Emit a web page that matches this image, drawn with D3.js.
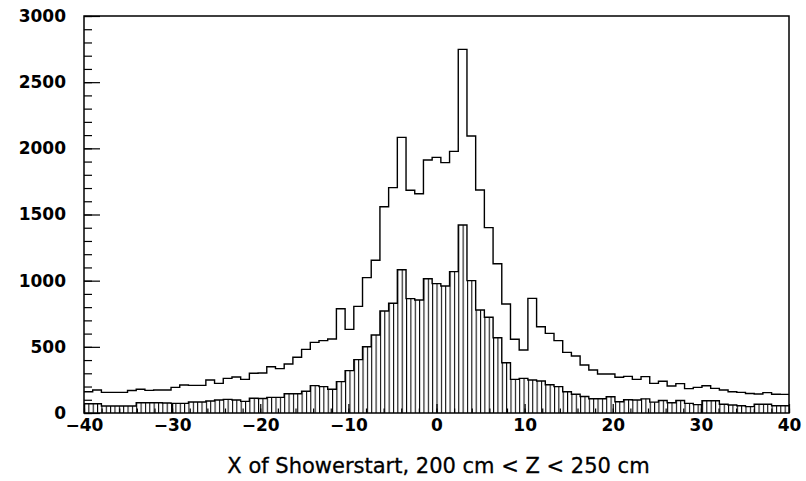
<!DOCTYPE html>
<html>
<head>
<meta charset="utf-8">
<script src="https://cdn.jsdelivr.net/npm/d3@7"></script>
<style>
  html, body { margin: 0; padding: 0; background: #fff; }
  svg { display: block; }
</style>
</head>
<body>
<svg id="chart" width="806" height="481"></svg>
<script>
// ---- data (81 bins of equal width spanning -40 .. 40) ----
const xRange = [-40, 40];
const allShowers = [
  161, 174, 156, 156, 156, 170, 179, 171, 174, 174,
  194, 212, 209, 209, 249, 224, 262, 272, 254, 300,
  302, 350, 335, 370, 421, 481, 534, 547, 559, 788,
  632, 806, 1023, 1154, 1559, 1703, 2083, 1683, 1657, 1912,
  1932, 1892, 1977, 2748, 2093, 1685, 1401, 1128, 824, 557,
  476, 866, 652, 602, 547, 458, 431, 363, 325, 295,
  295, 270, 277, 254, 275, 224, 240, 204, 222, 184,
  194, 206, 186, 174, 161, 156, 147, 144, 154, 142,
  141
];
const selectedShowers = [
  70, 70, 53, 53, 53, 53, 78, 78, 78, 76,
  73, 73, 83, 83, 91, 98, 103, 98, 88, 111,
  110, 118, 118, 146, 146, 164, 207, 199, 179, 237,
  320, 403, 501, 589, 771, 829, 1083, 864, 854, 1015,
  978, 960, 1068, 1421, 1000, 778, 723, 569, 380, 254,
  262, 249, 242, 214, 199, 161, 142, 125, 108, 108,
  123, 85, 100, 98, 107, 82, 95, 78, 95, 73,
  63, 93, 93, 66, 60, 55, 48, 66, 66, 55,
  55
];
const xMajorTicks = [-40, -30, -20, -10, 0, 10, 20, 30, 40];
const xTickLabels = ["\u221240", "\u221230", "\u221220", "\u221210", "0", "10", "20", "30", "40"];
const yMajorTicks = [0, 500, 1000, 1500, 2000, 2500, 3000];
const yTickLabels = ["0", "500", "1000", "1500", "2000", "2500", "3000"];
const xTitle = "X of Showerstart, 200 cm < Z < 250 cm";

(function () {
const svg = d3.select("#chart");
const pLeft = 84, pRight = 789, pTop = 16, pBottom = 413;
const x = d3.scaleLinear().domain(xRange).range([pLeft, pRight]);
const y = d3.scaleLinear().domain([0, 3000]).range([pBottom, pTop]);

const nBins = allShowers.length;
const binW = (xRange[1] - xRange[0]) / nBins;
const edges = d3.range(nBins + 1).map(k => xRange[0] + k * binW);

function stepPoints(vals) {
  const pts = vals.map((v, i) => [edges[i], v]);
  pts.push([edges[nBins], vals[nBins - 1]]);
  return pts;
}

const binPx = x(edges[1]) - x(edges[0]);
const defs = svg.append("defs");
const pat = defs.append("pattern")
  .attr("id", "vhatch")
  .attr("patternUnits", "userSpaceOnUse")
  .attr("x", pLeft)
  .attr("y", 0)
  .attr("width", binPx / 2)
  .attr("height", 20);
pat.append("line")
  .attr("x1", 0.5).attr("x2", 0.5)
  .attr("y1", 0).attr("y2", 20)
  .attr("stroke", "#000")
  .attr("stroke-width", 1.1);

defs.append("clipPath").attr("id", "plotclip")
  .append("rect").attr("x", pLeft).attr("y", pTop).attr("width", pRight - pLeft).attr("height", pBottom - pTop);

const g = svg.append("g").attr("clip-path", "url(#plotclip)");

const area = d3.area()
  .curve(d3.curveStepAfter)
  .x(d => x(d[0]))
  .y0(y(0))
  .y1(d => y(d[1]));
g.append("path")
  .datum(stepPoints(selectedShowers))
  .attr("d", area)
  .attr("fill", "url(#vhatch)")
  .attr("stroke", "none");

const line = d3.line()
  .curve(d3.curveStepAfter)
  .x(d => x(d[0]))
  .y(d => y(d[1]));

g.append("path")
  .datum(stepPoints(selectedShowers))
  .attr("d", line)
  .attr("fill", "none")
  .attr("stroke", "#000")
  .attr("stroke-width", 1.4);

g.append("path")
  .datum(stepPoints(allShowers))
  .attr("d", line)
  .attr("fill", "none")
  .attr("stroke", "#000")
  .attr("stroke-width", 1.4);

const fontTick = "'DejaVu Sans', sans-serif";

const xMinor = svg.append("g").attr("transform", `translate(0,${pBottom})`)
  .call(d3.axisBottom(x).tickValues(d3.range(-40, 41, 2)).tickSize(-4.5).tickFormat(""));
const xAxis = svg.append("g").attr("transform", `translate(0,${pBottom})`)
  .call(d3.axisBottom(x).tickValues(xMajorTicks).tickSize(-9).tickPadding(6)
    .tickFormat((d, i) => xTickLabels[i]));
const yMinor = svg.append("g").attr("transform", `translate(${pLeft},0)`)
  .call(d3.axisLeft(y).tickValues(d3.range(0, 3001, 100)).tickSize(-8).tickFormat(""));
const yAxis = svg.append("g").attr("transform", `translate(${pLeft},0)`)
  .call(d3.axisLeft(y).tickValues(yMajorTicks).tickSize(-16).tickPadding(18)
    .tickFormat((d, i) => yTickLabels[i]));

[xMinor, xAxis, yMinor, yAxis].forEach(a => {
  a.select(".domain").remove();
  a.selectAll(".tick line").attr("stroke", "#000").attr("stroke-width", 1.2);
  a.selectAll("text")
    .attr("fill", "#000")
    .style("font-family", fontTick)
    .style("font-weight", "bold")
    .style("font-size", "17px");
});

svg.append("rect")
  .attr("x", pLeft).attr("y", pTop)
  .attr("width", pRight - pLeft).attr("height", pBottom - pTop)
  .attr("fill", "none")
  .attr("stroke", "#000")
  .attr("stroke-width", 1.5);

svg.append("text")
  .attr("x", (pLeft + pRight) / 2 + 2)
  .attr("y", 473)
  .attr("text-anchor", "middle")
  .style("font-family", "'DejaVu Sans', sans-serif")
  .style("font-size", "21px")
  .attr("fill", "#000")
  .attr("stroke", "#000")
  .attr("stroke-width", 0.3)
  .text(xTitle);
})();
</script>
</body>
</html>
